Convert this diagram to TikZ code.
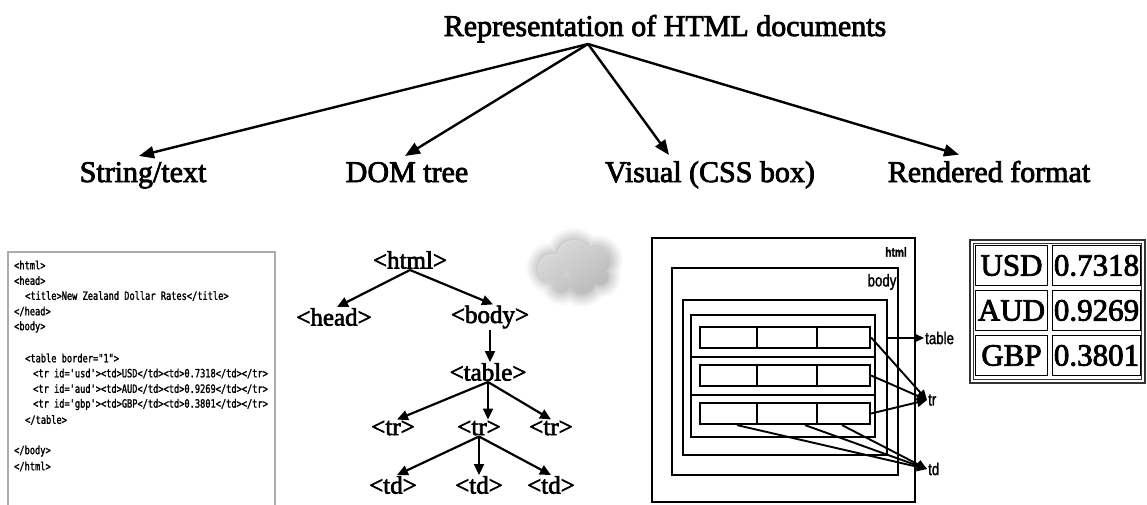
\documentclass[tikz,border=0pt]{standalone}
\usepackage{fontspec}
\setmainfont[FakeBold=2.6]{Liberation Serif}
\setmonofont[FakeStretch=0.76,FakeBold=1.6]{DejaVu Sans Mono}
\newfontfamily\boxfont[FakeStretch=0.78,FakeBold=1.5]{Liberation Sans}
\usetikzlibrary{arrows.meta}

\tikzset{
  heading/.style={font=\fontsize{30}{34}\selectfont, inner sep=2pt, anchor=base},
  topedge/.style={line width=2.4pt, -{Triangle[length=15pt,width=12pt]}},
  tag/.style={font=\fontsize{25}{28}\selectfont, inner sep=1pt},
  treeedge/.style={line width=2.2pt, -{Triangle[length=11pt,width=10pt]}},
  codeline/.style={font=\ttfamily\fontsize{11.4}{13}\selectfont, anchor=west, inner sep=0pt},
  cssbox/.style={draw, line width=2.2pt},
  csslabel/.style={font=\boxfont\fontsize{17}{19}\selectfont, inner sep=1pt},
  cssedge/.style={line width=1.9pt, -{Triangle[length=10pt,width=9pt]}},
  cell/.style={draw, line width=1.8pt, inner sep=0pt, font=\fontsize{31}{34}\selectfont},
}

\begin{document}
\begin{tikzpicture}[x=1pt,y=-1pt]
\useasboundingbox (0,0) rectangle (1147,504);
\clip (0,0) rectangle (1147,504);

% ---------- heading and the four representations ----------
\node[heading] (title) at (665,36) {Representation of HTML documents};
\coordinate (apex) at (588,44);
\node[heading] (str) at (143,182) {String/text};
\node[heading] (dom) at (407,182) {DOM tree};
\node[heading] (vis) at (710,182) {Visual (CSS box)};
\node[heading] (ren) at (989,182) {Rendered format};

\draw[topedge] (apex) -- ([xshift=-4pt,yshift=4pt]str.north);
\draw[topedge] (apex) -- ([xshift=-2pt,yshift=4pt]dom.north);
\draw[topedge] (apex) -- ([xshift=-41pt,yshift=4pt]vis.north);
\draw[topedge] (apex) -- ([xshift=-30pt,yshift=4pt]ren.north);

% ---------- source text ----------
\draw[gray!65, line width=1.5pt] (8,520) -- (8,252) -- (275,252) -- (275,520);
\node[codeline] (l0)  at (14,265)   {<html>};
\node[codeline] (l1)  at (14,280.5) {<head>};
\node[codeline] (l2)  at (25,296)   {<title>New Zealand Dollar Rates</title>};
\node[codeline] (l3)  at (14,311.5) {</head>};
\node[codeline] (l4)  at (14,327)   {<body>};
\node[codeline] (l6)  at (25,358)   {<table border="1">};
\node[codeline] (l7)  at (33,373.5) {<tr id='usd'><td>USD</td><td>0.7318</td></tr>};
\node[codeline] (l8)  at (33,389)   {<tr id='aud'><td>AUD</td><td>0.9269</td></tr>};
\node[codeline] (l9)  at (33,404.5) {<tr id='gbp'><td>GBP</td><td>0.3801</td></tr>};
\node[codeline] (l10) at (25,420)   {</table>};
\node[codeline] (l12) at (14,451)   {</body>};
\node[codeline] (l13) at (14,466.5) {</html>};

% ---------- DOM tree ----------
\node[tag] (html)  at (410,260) {<html>};
\node[tag] (head)  at (334,317) {<head>};
\node[tag] (body)  at (490,317) {<body>};
\node[tag] (table) at (488,372) {<table>};
\node[tag] (tr1)   at (393,428) {<tr>};
\node[tag] (tr2)   at (479,428) {<tr>};
\node[tag] (tr3)   at (551,428) {<tr>};
\node[tag] (td1)   at (393,485) {<td>};
\node[tag] (td2)   at (479,485) {<td>};
\node[tag] (td3)   at (551,485) {<td>};

\draw[treeedge] (html.south) -- ([xshift=3pt]head.north);
\draw[treeedge] (html.south) -- ([xshift=3pt]body.north);
\draw[treeedge] (body.south) -- (table.north -| body.south);
\draw[treeedge] (table.south) -- ([xshift=4pt]tr1.north);
\draw[treeedge] (table.south) -- (tr2.north -| table.south);
\draw[treeedge] (table.south) -- (tr3.north);
\draw[treeedge] (tr2.south) -- ([xshift=4pt]td1.north);
\draw[treeedge] (tr2.south) -- (td2.north);
\draw[treeedge] (tr2.south) -- (td3.north);

% soft grey cloud: stacked translucent layers give the fuzzy rim
\foreach \d/\o in {10/0.07,8/0.09,6/0.11,4/0.13,2/0.15,0/0.18,-3/0.2}{
  \fill[gray!70, opacity=\o]
    (552,268) circle ({16+\d}) (574,257) circle ({19+\d}) (597,261) circle ({16+\d})
    (582,281) circle ({16+\d}) (562,284) circle ({11+\d}) (600,277) circle ({11+\d});
}
\shade[top color=white, bottom color=gray!70, shading angle=35, opacity=0.35]
    (552,268) circle (14) (574,257) circle (17) (597,261) circle (14)
    (582,281) circle (14) (562,284) circle (9) (600,277) circle (9);

% ---------- visual (CSS box) ----------
\draw[cssbox] (652,238) rectangle (915,502);
\draw[cssbox] (672,268) rectangle (898,475);
\draw[cssbox] (683,300) rectangle (887,455);
\draw[cssbox] (691,315) rectangle (875,437);
\draw[cssbox] (691,357) -- (875,357);
\draw[cssbox] (691,395) -- (875,395);
\node[cssbox, minimum width=170pt, minimum height=21pt, inner sep=0pt] (row1) at (785,337.5) {};
\node[cssbox, minimum width=170pt, minimum height=21pt, inner sep=0pt] (row2) at (785,375.5) {};
\node[cssbox, minimum width=170pt, minimum height=21pt, inner sep=0pt] (row3) at (785,413.5) {};
\foreach \r in {row1,row2,row3}{
  \draw[cssbox] (\r.north west) ++(58,0) -- ++(0,21);
  \draw[cssbox] (\r.north west) ++(118,0) -- ++(0,21);
}
\node[csslabel, font=\boxfont\bfseries\fontsize{13}{15}\selectfont] (lhtml) at (896,252) {html};
\node[csslabel] (lbody) at (882,282) {body};
\node[csslabel, anchor=west] (ltable) at (924,338) {table};
\node[csslabel, anchor=west] (ltr) at (927,400) {tr};
\node[csslabel, anchor=west] (ltd) at (927,469) {td};

\coordinate (tablee) at (887,338);
\draw[cssedge] (tablee) -- (ltable.west);
\draw[cssedge] (row1.east) -- (ltr.west);
\draw[cssedge] (row2.east) -- (ltr.west);
\draw[cssedge] (row3.east) -- (ltr.west);
\draw[cssedge] ([xshift=-48pt]row3.south) -- (ltd.west);
\draw[cssedge] ([xshift=20pt]row3.south) -- (ltd.west);
\draw[cssedge] ([xshift=57pt]row3.south) -- (ltd.west);

% ---------- rendered table ----------
\draw[line width=1.2pt, black!80] (970,240) rectangle (1145,383);
\draw[line width=1.2pt, black!80] (973.5,243.5) rectangle (1141.5,379.5);
\node[cell, minimum width=72pt, minimum height=40pt] (c11) at (1011.5,265.5) {USD};
\node[cell, minimum width=88pt, minimum height=40pt] (c12) at (1096.5,265.5) {0.7318};
\node[cell, minimum width=72pt, minimum height=40pt] (c21) at (1011.5,310.5) {AUD};
\node[cell, minimum width=88pt, minimum height=40pt] (c22) at (1096.5,310.5) {0.9269};
\node[cell, minimum width=72pt, minimum height=40pt] (c31) at (1011.5,355.5) {GBP};
\node[cell, minimum width=88pt, minimum height=40pt] (c32) at (1096.5,355.5) {0.3801};
\end{tikzpicture}
\end{document}
